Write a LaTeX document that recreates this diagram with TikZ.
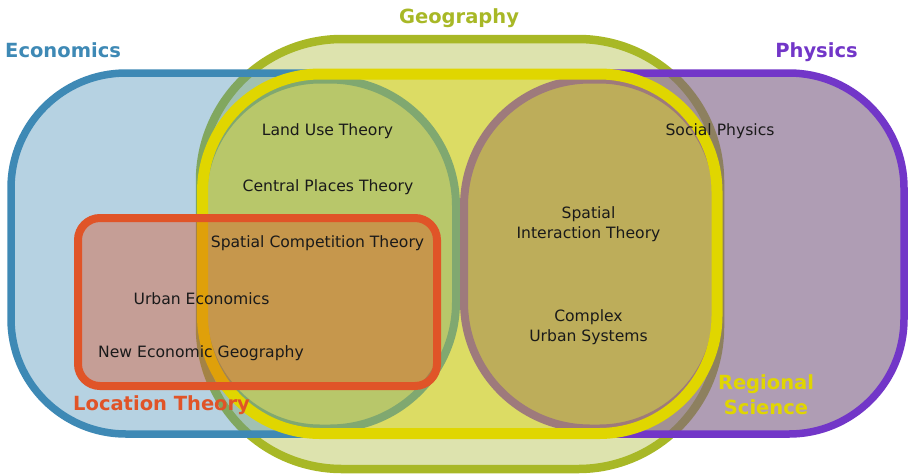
\documentclass[tikz,border=0pt]{standalone}
\usepackage{fontspec}
\setmainfont{DejaVu Sans}
\definecolor{geoS}{HTML}{A8B826}
\definecolor{geoF}{HTML}{DDE3AE}
\definecolor{ecoS}{HTML}{3E89B5}
\definecolor{ecoF}{HTML}{488EB6}
\definecolor{phyS}{HTML}{7236C8}
\definecolor{phyF}{HTML}{7D5E84}
\definecolor{regS}{HTML}{E0D600}
\definecolor{regF}{HTML}{DCDC64}
\definecolor{luS}{HTML}{80A870}
\definecolor{luF}{HTML}{B8C76A}
\definecolor{siS}{HTML}{9E7A7C}
\definecolor{siF}{HTML}{BDAD5A}
\definecolor{locS}{HTML}{E05428}
\definecolor{locF}{HTML}{DE4A1C}
\definecolor{txt}{HTML}{1A1A1A}
\begin{document}
\begin{tikzpicture}[x=1pt,y=-1pt,
  title/.style={font=\fontsize{19.5}{25}\selectfont\bfseries, inner sep=0pt, align=center},
  topic/.style={font=\fontsize{15.6}{20}\selectfont, inner sep=0pt, align=center, text=txt},
  innerbox/.style={line width=8pt}]
\useasboundingbox (0,0) rectangle (909,475);
% Geography (outer)
\draw[geoS, fill=geoF, line width=8.5pt, rounded corners=142pt] (200,39) rectangle (720,469);
% Economics
\draw[ecoS, fill=ecoF, fill opacity=0.4, line width=7.5pt, rounded corners=115pt] (11,73) rectangle (470,434);
% Physics
\draw[phyS, fill=phyF, fill opacity=0.61, line width=7.5pt, rounded corners=115pt] (450,73) rectangle (904,434);
% Regional Science fill
\fill[regF, rounded corners=118pt] (202.5,74) rectangle (717,433.5);
% inner shapes
\draw[innerbox, luS, fill=luF]
  (203,197) arc[start angle=180, end angle=270, radius=117.5]
  -- (329.5,79.5) arc[start angle=270, end angle=360, radius=126.5]
  -- (456,302) arc[start angle=0, end angle=90, radius=126.5]
  -- (320.5,428.5) arc[start angle=90, end angle=180, radius=117.5] -- cycle;
\draw[innerbox, siS, fill=siF]
  (464,206) arc[start angle=180, end angle=270, radius=126.5]
  -- (599,79.5) arc[start angle=270, end angle=360, radius=118]
  -- (717,310.5) arc[start angle=0, end angle=90, radius=118]
  -- (590.5,428.5) arc[start angle=90, end angle=180, radius=126.5] -- cycle;
% Regional Science outline
\draw[regS, line width=11pt, rounded corners=118pt] (202.5,74) rectangle (717,433.5);
% Location Theory
\draw[locS, fill=locF, fill opacity=0.38, line width=8pt, rounded corners=22pt] (78,218) rectangle (437,386);
% titles
\node[title, text=geoS, anchor=base] (tgeo) at (459,23) {Geography};
\node[title, text=ecoS, anchor=base west] (teco) at (5,57) {Economics};
\node[title, text=phyS, anchor=base] (tphy) at (816.5,57) {Physics};
\node[title, text=locS, anchor=base west] (tloc) at (73,410) {Location Theory};
\node[title, text=regS] (treg) at (766,395) {Regional\\Science};
% topics
\node[topic, anchor=base] (lu) at (327.5,135) {Land Use Theory};
\node[topic, anchor=base] (cp) at (328,191) {Central Places Theory};
\node[topic, anchor=base] (sc) at (317.5,247.5) {Spatial Competition Theory};
\node[topic, anchor=base] (ue) at (201.5,304) {Urban Economics};
\node[topic, anchor=base] (neg) at (201,357.5) {New Economic Geography};
\node[topic, anchor=base] (sp) at (720,135) {Social Physics};
\node[topic] (sit) at (588.5,224) {Spatial\\Interaction Theory};
\node[topic] (cus) at (588.5,327) {Complex\\Urban Systems};
\end{tikzpicture}
\end{document}
